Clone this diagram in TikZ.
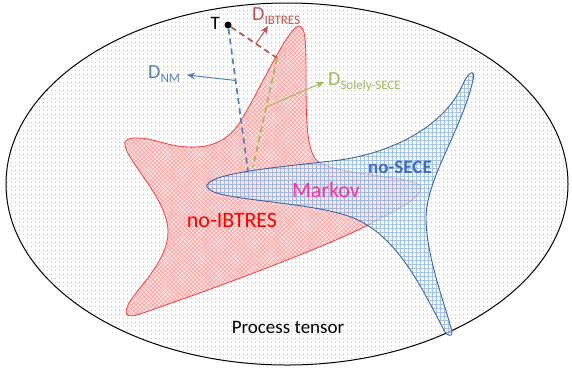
\documentclass[tikz,border=0pt]{standalone}
\usepackage{fontspec}
\setmainfont{Carlito}
\usetikzlibrary{patterns.meta, arrows.meta, calc}
\definecolor{shapered}{RGB}{250,60,60}
\definecolor{nmblue}{RGB}{79,129,189}
\definecolor{ibred}{RGB}{192,80,77}
\definecolor{ssgreen}{RGB}{155,187,89}
\definecolor{markovpink}{RGB}{255,51,153}
\definecolor{secedge}{RGB}{62,100,160}
\definecolor{secgrid}{RGB}{100,155,215}
\definecolor{sectext}{RGB}{65,108,185}
\newcommand{\distlabel}[1]{D\raisebox{-4.5pt}{\fontsize{13}{13}\selectfont #1}}

\begin{document}
\begin{tikzpicture}[x=1pt, y=-1pt, line join=round,
  dist/.style={line width=1.7pt, dash pattern=on 6pt off 4pt},
  darrow/.style={line width=1pt, -{Stealth[length=8pt, width=7pt]}},
  lab/.style={font=\fontsize{20}{24}\selectfont, inner sep=0pt, anchor=base west}]
\useasboundingbox (0, 0) rectangle (572, 373);
%Process tensor
\draw[line width=1pt, pattern={Dots[radius=0.5pt, distance=4pt]}, pattern color=black!40] (287, 184) ellipse [x radius=281pt, y radius=181pt];
%no-IBTRES
\draw[shapered, line width=0.8pt, preaction={fill=red!12}, pattern={Hatch[angle=45, distance=3pt, line width=0.35pt]}, pattern color=red!45]
  (298, 26) .. controls (285, 32) and (255, 100) .. (238, 125)
  .. controls (222, 148) and (195, 152) .. (160, 142)
  .. controls (140, 136) and (122, 136) .. (125, 146)
  .. controls (130, 165) and (168, 200) .. (168, 232)
  .. controls (168, 262) and (135, 290) .. (128, 305)
  .. controls (123, 316) and (128, 318) .. (140, 314)
  .. controls (230, 283) and (330, 245) .. (370, 224)
  .. controls (400, 208) and (425, 196) .. (420, 186)
  .. controls (414, 176) and (345, 176) .. (320, 163)
  .. controls (306, 155) and (306, 120) .. (306, 70)
  .. controls (306, 40) and (305, 24) .. (298, 26) -- cycle;
%no-SECE
\draw[secedge, line width=0.9pt, preaction={fill=white, fill opacity=0.55},
  path picture={\draw[secgrid, line width=0.35pt, draw opacity=0.6, shift={(0.5, 0.5)}] (196, 56) grid[step=4pt] (484, 344);}]
  (208, 184) .. controls (215, 172) and (290, 166) .. (340, 160)
  .. controls (395, 152) and (445, 125) .. (463, 84)
  .. controls (468, 72) and (476, 68) .. (473, 80)
  .. controls (462, 130) and (425, 180) .. (426, 220)
  .. controls (427, 260) and (447, 310) .. (452, 332)
  .. controls (453, 337) and (447, 336) .. (445, 332)
  .. controls (420, 285) and (395, 230) .. (345, 215)
  .. controls (300, 201) and (215, 200) .. (208, 188)
  .. controls (206, 186) and (206, 185) .. (208, 184) -- cycle;
%Labels
\node[lab, font=\fontsize{19}{23}\selectfont, anchor=base] (ptlabel) at (288, 333) {Process tensor};
\node[lab, font=\fontsize{22}{26}\selectfont, anchor=base, red] (iblabel) at (232, 227) {no-IBTRES};
\node[lab, font=\fontsize{22}{26}\selectfont, anchor=base, markovpink] (mklabel) at (326, 197) {Markov};
\node[lab, font=\fontsize{19}{23}\selectfont\bfseries, anchor=base, sectext] (seclabel) at (400, 173) {no-SECE};
%Distances
\node[circle, fill, inner sep=0pt, minimum size=7pt] (T) at (228, 25) {};
\node[lab, font=\fontsize{19}{23}\selectfont, anchor=base east] (Tlabel) at (220, 29) {T};
\coordinate (pNM) at (248, 171);
\coordinate (pIB) at (277, 58);
\coordinate (pSS) at (253, 167);
\draw[dist, nmblue] (T) -- (pNM);
\draw[dist, ibred] (T) -- (pIB);
\draw[dist, ssgreen] (pIB) -- (pSS);
\coordinate (eNM) at (187, 75);
\coordinate (eIB) at (268, 26);
\coordinate (eSS) at (324, 82);
\draw[darrow, nmblue] ($(T)!0.38!(pNM)$) -- (eNM);
\draw[darrow, ibred] ($(T)!0.57!(pIB)$) -- (eIB);
\draw[darrow, ssgreen] ($(pIB)!0.45!(pSS)$) -- (eSS);
\node[lab, nmblue] (DNM) at (148, 78) {\distlabel{NM}};
\node[lab, ibred] (DIB) at (252, 20) {\distlabel{IBTRES}};
\node[lab, ssgreen] (DSS) at (328, 85) {\distlabel{Solely-SECE}};
\end{tikzpicture}
\end{document}
